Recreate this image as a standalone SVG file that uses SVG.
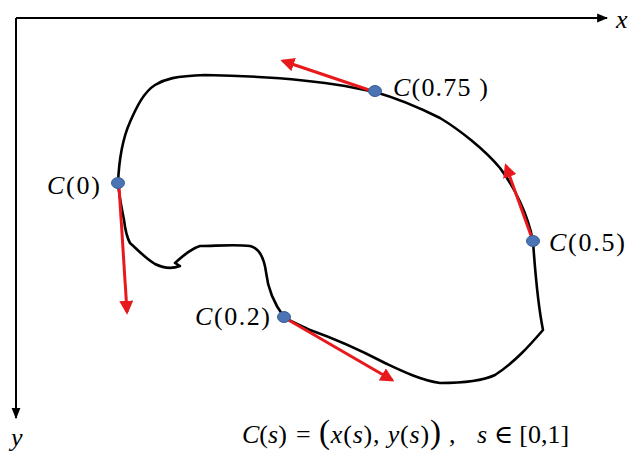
<svg xmlns="http://www.w3.org/2000/svg" width="640" height="460" viewBox="0 0 640 460">
<defs>
<style>
.axis{stroke:#000;stroke-width:2;fill:none}
.curve{stroke:#000;stroke-width:2.6;fill:none;stroke-linejoin:round;stroke-linecap:round}
.tan{stroke:#e8191c;stroke-width:3;fill:none}
.pt{fill:#4a74b4;stroke:#3a5f96;stroke-width:1}
.lbl{font-family:"Liberation Serif","DejaVu Serif",serif;font-size:26px;fill:#000}
.big{font-size:33px}
.it{font-style:italic}
</style>
<marker id="rh" viewBox="0 0 10 10" refX="8" refY="5" markerWidth="14" markerHeight="14" orient="auto" markerUnits="userSpaceOnUse">
<path d="M0,0 L10,5 L0,10 z" fill="#e8191c"/>
</marker>
<marker id="axh" viewBox="0 0 10 10" refX="9" refY="5" markerWidth="11" markerHeight="11" orient="auto" markerUnits="userSpaceOnUse">
<path d="M0,1 L10,5 L0,9 z" fill="#000"/>
</marker>
</defs>
<g id="axes">
<line class="axis" x1="16" y1="18" x2="607" y2="18" marker-end="url(#axh)"/>
<line class="axis" x1="16" y1="18" x2="16" y2="418" marker-end="url(#axh)"/>
<text class="lbl it" x="616" y="28">x</text>
<text class="lbl it" x="11" y="446">y</text>
</g>
<g id="curve">
<path class="curve" d="M118,183 C119,160 122,140 130,122 C137,106 144,92 155,85 C165,79 175,76 205,75 C260,76 310,80 345,86 C360,89 370,91 375,92 C400,99 420,108 440,118 C460,130 485,150 500,168 C515,188 528,215 533,241 C535,270 537,300 543,330 C530,345 515,362 495,375 C480,382 460,383 440,383 C420,380 400,370 385,363 C360,350 330,337 310,330 C300,325 290,321 284,317 C275,305 268,290 266,272 C264,258 260,248 250,246 C235,244 215,246 200,246 C190,249 183,256 175,263 L180,266 C172,269 163,268 155,264 C145,258 138,250 130,243 C126,236 125,228 124,220 C121,205 119,195 118,183 Z"/>
</g>
<g id="connectors">
<line class="tan" x1="119" y1="186" x2="127" y2="312" marker-end="url(#rh)"/>
<line class="tan" x1="285" y1="318" x2="392" y2="380" marker-end="url(#rh)"/>
<line class="tan" x1="533" y1="241" x2="506" y2="166" marker-end="url(#rh)"/>
<line class="tan" x1="375" y1="92" x2="283" y2="61" marker-end="url(#rh)"/>
</g>
<g id="p0"><ellipse class="pt" cx="118" cy="183" rx="6.5" ry="5.5"/><text class="lbl" x="47" y="194" textLength="53"><tspan class="it">C</tspan>(0)</text></g>
<g id="p02"><ellipse class="pt" cx="284" cy="317" rx="6.5" ry="5.5"/><text class="lbl" x="195" y="325" textLength="75"><tspan class="it">C</tspan>(0.2)</text></g>
<g id="p05"><ellipse class="pt" cx="533" cy="241" rx="6.5" ry="5.5"/><text class="lbl" x="549" y="251" textLength="76"><tspan class="it">C</tspan>(0.5)</text></g>
<g id="p075"><ellipse class="pt" cx="375" cy="91" rx="6.5" ry="5.5"/><text class="lbl" x="393" y="96" textLength="95" xml:space="preserve"><tspan class="it">C</tspan>(0.75 )</text></g>
<g id="formula">
<text class="lbl" x="242" y="443"><tspan class="it">C</tspan>(<tspan class="it">s</tspan>)</text>
<text class="lbl" x="296" y="443">=</text>
<text class="lbl" x="319" y="443" textLength="122"><tspan class="big">(</tspan><tspan class="it">x</tspan>(<tspan class="it">s</tspan>), <tspan class="it">y</tspan>(<tspan class="it">s</tspan>)<tspan class="big">)</tspan></text>
<text class="lbl" x="449" y="443" font-size="16">,</text>
<text class="lbl" x="477" y="443"><tspan class="it">s</tspan> ∈ [0,1]</text>
</g>
</svg>
